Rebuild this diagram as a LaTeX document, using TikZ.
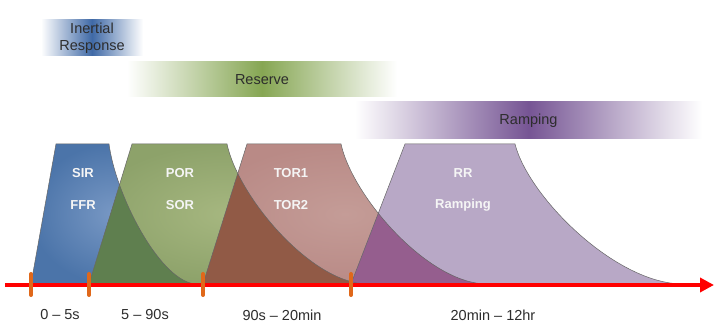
\documentclass[tikz,border=0pt]{standalone}
\usepackage{fontspec}
\setmainfont{Liberation Sans}
\usetikzlibrary{arrows.meta, positioning}
\definecolor{irBlue}{HTML}{3F69A6}
\definecolor{resGreen}{HTML}{86A653}
\definecolor{rampPurple}{HTML}{765594}
\definecolor{sirBlue}{HTML}{4B74A9}
\definecolor{sirLight}{HTML}{7898C4}
\definecolor{porGreen}{HTML}{8DA26A}
\definecolor{porLight}{HTML}{A6B780}
\definecolor{porDark}{HTML}{5F7F4F}
\definecolor{torPink}{HTML}{B98A86}
\definecolor{torLight}{HTML}{C49C97}
\definecolor{torDark}{HTML}{915A46}
\definecolor{rrLilac}{HTML}{B8A8C6}
\definecolor{rrDark}{HTML}{955E8E}
\definecolor{tickOrange}{HTML}{E0681A}
\definecolor{textDark}{HTML}{2D2D2D}

% response band: bottom-left, top-left, top-right, end of decay
\newcommand{\band}[4]{(#1,284) -- (#2,144) -- (#3,144)
  .. controls ({#3+0.08*(#4-#3)},197) and ({#3+0.6*(#4-#3)},284) .. (#4,284) -- cycle}

\begin{document}
\begin{tikzpicture}[x=1pt, y=-1pt,
    bar/.style={rectangle, left color=white, right color=white, middle color=#1,
                font=\fontsize{14.5}{17}\selectfont, text=textDark, align=center,
                inner sep=0pt},
    lbl/.style={font=\fontsize{13}{15}\selectfont\bfseries, text=white!96!black},
    spanlbl/.style={font=\fontsize{14.5}{17}\selectfont, text=textDark},
    rim/.style={draw=black!60, line width=0.5pt},
    tickmark/.style={draw=tickOrange, line width=4pt, line cap=round},
  ]
    \useasboundingbox[fill=white] (0,0) rectangle (721,328);

    \node[bar=irBlue, minimum width=102pt, minimum height=36pt] (inertial) at (92,38)
      {Inertial\\Response};
    \node[bar=resGreen, minimum width=270pt, minimum height=35pt] (reserve) at (262,79.5)
      {Reserve};
    \node[bar=rampPurple, minimum width=347pt, minimum height=37pt] (ramping) at (528.5,120.5)
      {Ramping};

    % bands
    \shade[inner color=sirLight, outer color=sirBlue] \band{31}{56}{109}{197};
    \shade[inner color=porLight, outer color=porGreen] \band{89}{132}{227}{368};
    \begin{scope}
      \clip \band{89}{132}{227}{368};
      \fill[porDark] \band{31}{56}{109}{197};
    \end{scope}
    \shade[inner color=torLight, outer color=torPink] \band{203}{247}{341}{487};
    \begin{scope}
      \clip \band{203}{247}{341}{487};
      \fill[torDark] \band{89}{132}{227}{368};
    \end{scope}
    \fill[rrLilac] \band{351}{405}{515}{683};
    \begin{scope}
      \clip \band{351}{405}{515}{683};
      \fill[rrDark] \band{203}{247}{341}{487};
    \end{scope}
    \draw[rim] \band{31}{56}{109}{197};
    \draw[rim] \band{89}{132}{227}{368};
    \draw[rim] \band{203}{247}{341}{487};
    \draw[rim] \band{351}{405}{515}{683};

    \node[lbl] (sir) at (83,173) {SIR};
    \node[lbl] (ffr) at (83,205) {FFR};
    \node[lbl] (por) at (180,173) {POR};
    \node[lbl] (sor) at (180,205) {SOR};
    \node[lbl] (tor1) at (291,173) {TOR1};
    \node[lbl] (tor2) at (291,205) {TOR2};
    \node[lbl] (rr) at (463,173) {RR};
    \node[lbl] (rramp) at (463,205) {Ramping};

    % time axis
    \coordinate (axstart) at (5,285);
    \coordinate (axend) at (714,285);
    \draw[red, line width=3.5pt, -{Triangle[length=14pt, width=14pt]}] (axstart) -- (axend);
    \foreach \t in {31,89,203,351}
      \draw[tickmark] (\t,274) -- (\t,295);

    \node[spanlbl] (t1) at (60,315) {0 – 5s};
    \node[spanlbl] (t2) at (145,315) {5 – 90s};
    \node[spanlbl] (t3) at (282,315) {90s – 20min};
    \node[spanlbl] (t4) at (493,315) {20min – 12hr};
  \end{tikzpicture}
\end{document}
